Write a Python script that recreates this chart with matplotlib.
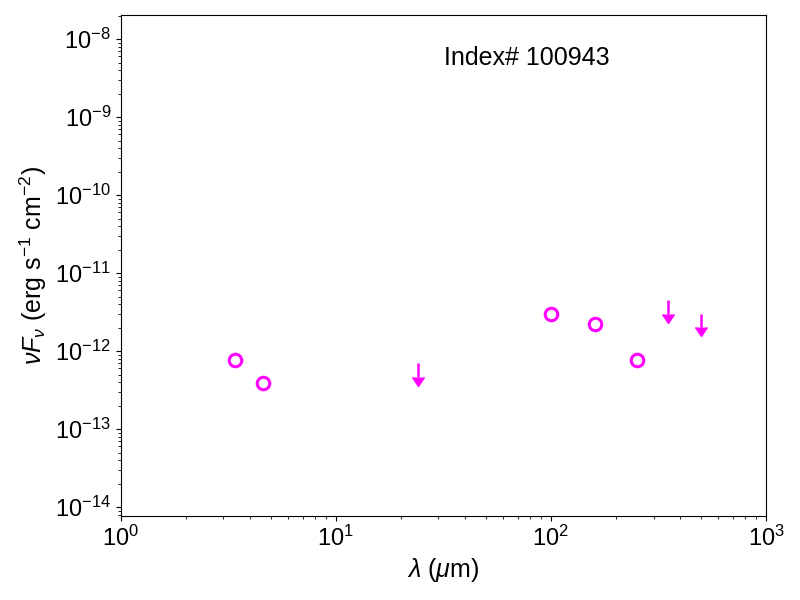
import numpy as np
import matplotlib
matplotlib.use("Agg")
import matplotlib.pyplot as plt

plt.rcParams["font.family"] = ["Liberation Sans", "DejaVu Sans"]
plt.rcParams["mathtext.fontset"] = "custom"
plt.rcParams["mathtext.rm"] = "Liberation Sans"
plt.rcParams["mathtext.it"] = "Liberation Sans:italic"
plt.rcParams["mathtext.bf"] = "Liberation Sans:bold"

# detections
wave_det = np.array([3.4, 4.6, 100.0, 160.0, 250.0])
flux_det = np.array([7.7e-13, 3.9e-13, 3.0e-12, 2.2e-12, 7.6e-13])

# upper limits
wave_lim = np.array([24.0, 350.0, 500.0])
flux_lim = np.array([7.0e-13, 4.5e-12, 3.0e-12])

source_id = "Index# 100943"

fig, ax = plt.subplots(figsize=(8, 6), dpi=100)

ax.plot(
    wave_det, flux_det,
    linestyle="none",
    marker="o",
    markersize=9,
    markerfacecolor="none",
    markeredgecolor="magenta",
    markeredgewidth=2.2
)

eb = ax.errorbar(
    wave_lim, flux_lim,
    yerr=0.33 * flux_lim,
    uplims=True,
    fmt="none",
    color="magenta",
    ecolor="magenta",
    elinewidth=1.8,
    capsize=4.5
)

# keep only the arrow heads, drop the flat caps
for cap in eb[1]:
    if cap.get_marker() == "_":
        cap.set_visible(False)
    else:
        cap.set_color("magenta")
        cap.set_markeredgecolor("magenta")
        cap.set_markerfacecolor("magenta")

ax.set_xscale("log")
ax.set_yscale("log")
ax.set_xlim(1, 1000)
ax.set_ylim(7.7e-15, 2.04e-8)

ax.set_xlabel(r"$\lambda\ (\mu \rm m)$", fontsize=18)
ax.set_ylabel(r"$\nu F_\nu\ (\rm erg\ s^{-1}\ cm^{-2})$", fontsize=18)
ax.tick_params(axis="both", which="major", labelsize=17)

ax.text(0.63, 0.915, source_id, transform=ax.transAxes,
        fontsize=18, ha="center", va="center")

fig.subplots_adjust(left=0.151, right=0.9575, top=0.975, bottom=0.14)

fig.savefig("out.png", dpi=100)
plt.close(fig)
